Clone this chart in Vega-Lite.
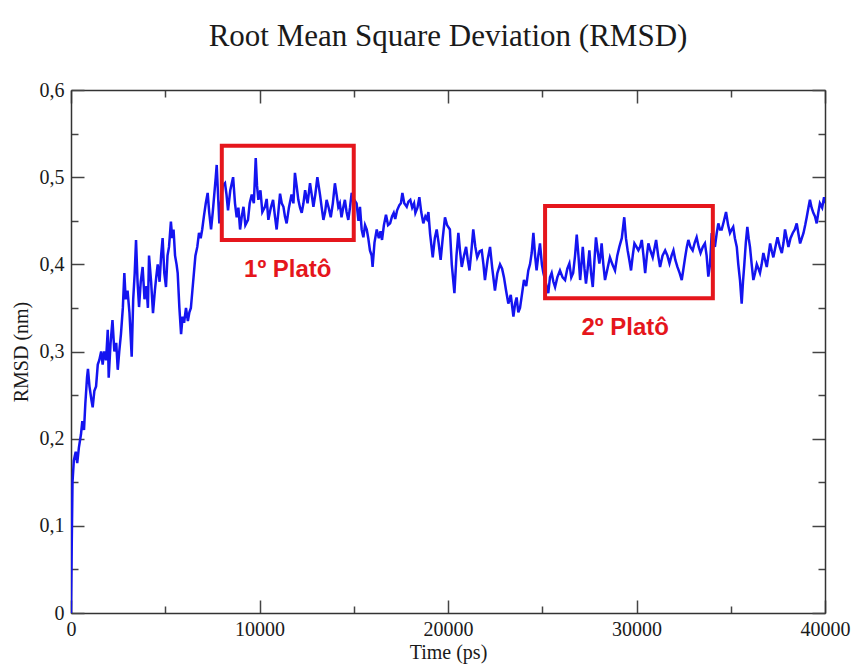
{
"$schema": "https://vega.github.io/schema/vega-lite/v6.json",
"width": 754, "height": 523,
"autosize": "none",
"padding": {"left": 71, "top": 90, "right": 29, "bottom": 52},
"background": "white",
"title": {"text": "Root Mean Square Deviation (RMSD)", "font": "Liberation Serif", "fontSize": 31, "fontWeight": "normal", "color": "#1a1a1a", "offset": 3, "baseline": "alphabetic", "anchor": "middle"},
"config": {"view": {"stroke": null},
  "axis": {"grid": false, "domainColor": "#333", "domainWidth": 1.5, "tickColor": "#444", "tickWidth": 1.5, "labelFont": "Liberation Serif", "labelFontSize": 20, "labelColor": "#1a1a1a", "titleFont": "Liberation Serif", "titleFontSize": 20, "titleFontWeight": "normal", "titleColor": "#1a1a1a"}},
"layer": [
 {"data": {"values": [
{"t":0,"r":0},{"t":40,"r":0.08},{"t":80,"r":0.15},{"t":150,"r":0.175},{"t":250,"r":0.185},{"t":330,"r":0.172},{"t":420,"r":0.19},{"t":530,"r":0.205},{"t":600,"r":0.22},{"t":690,"r":0.21},{"t":760,"r":0.24},{"t":850,"r":0.27},{"t":900,"r":0.28},{"t":980,"r":0.26},{"t":1080,"r":0.245},{"t":1150,"r":0.236},{"t":1240,"r":0.255},{"t":1330,"r":0.26},{"t":1420,"r":0.285},{"t":1500,"r":0.29},{"t":1600,"r":0.3},{"t":1680,"r":0.285},{"t":1760,"r":0.3},{"t":1860,"r":0.29},{"t":1950,"r":0.325},{"t":2000,"r":0.27},{"t":2100,"r":0.31},{"t":2200,"r":0.336},{"t":2300,"r":0.3},{"t":2400,"r":0.31},{"t":2480,"r":0.279},{"t":2560,"r":0.3},{"t":2650,"r":0.32},{"t":2750,"r":0.35},{"t":2830,"r":0.39},{"t":2900,"r":0.36},{"t":3000,"r":0.37},{"t":3100,"r":0.345},{"t":3220,"r":0.294},{"t":3300,"r":0.36},{"t":3380,"r":0.39},{"t":3450,"r":0.428},{"t":3530,"r":0.38},{"t":3610,"r":0.351},{"t":3700,"r":0.38},{"t":3800,"r":0.397},{"t":3900,"r":0.36},{"t":4000,"r":0.375},{"t":4080,"r":0.35},{"t":4140,"r":0.41},{"t":4250,"r":0.38},{"t":4350,"r":0.344},{"t":4450,"r":0.37},{"t":4520,"r":0.385},{"t":4600,"r":0.40},{"t":4700,"r":0.38},{"t":4780,"r":0.41},{"t":4860,"r":0.43},{"t":4950,"r":0.39},{"t":5040,"r":0.374},{"t":5120,"r":0.41},{"t":5200,"r":0.42},{"t":5300,"r":0.449},{"t":5370,"r":0.43},{"t":5440,"r":0.44},{"t":5520,"r":0.41},{"t":5600,"r":0.4},{"t":5660,"r":0.39},{"t":5750,"r":0.35},{"t":5840,"r":0.32},{"t":5920,"r":0.34},{"t":6000,"r":0.333},{"t":6100,"r":0.35},{"t":6200,"r":0.335},{"t":6280,"r":0.345},{"t":6360,"r":0.35},{"t":6440,"r":0.37},{"t":6520,"r":0.39},{"t":6600,"r":0.41},{"t":6700,"r":0.42},{"t":6790,"r":0.436},{"t":6880,"r":0.43},{"t":6960,"r":0.44},{"t":7050,"r":0.455},{"t":7150,"r":0.47},{"t":7250,"r":0.482},{"t":7330,"r":0.46},{"t":7430,"r":0.44},{"t":7520,"r":0.46},{"t":7600,"r":0.48},{"t":7680,"r":0.5},{"t":7730,"r":0.514},{"t":7800,"r":0.48},{"t":7870,"r":0.447},{"t":7950,"r":0.47},{"t":8050,"r":0.49},{"t":8170,"r":0.493},{"t":8250,"r":0.48},{"t":8330,"r":0.462},{"t":8450,"r":0.485},{"t":8600,"r":0.50},{"t":8700,"r":0.47},{"t":8790,"r":0.454},{"t":8880,"r":0.465},{"t":8970,"r":0.44},{"t":9060,"r":0.455},{"t":9150,"r":0.466},{"t":9250,"r":0.445},{"t":9390,"r":0.451},{"t":9480,"r":0.47},{"t":9590,"r":0.48},{"t":9700,"r":0.47},{"t":9800,"r":0.522},{"t":9870,"r":0.49},{"t":9940,"r":0.474},{"t":10050,"r":0.485},{"t":10150,"r":0.46},{"t":10290,"r":0.466},{"t":10380,"r":0.475},{"t":10470,"r":0.451},{"t":10600,"r":0.465},{"t":10720,"r":0.474},{"t":10820,"r":0.455},{"t":10910,"r":0.44},{"t":11000,"r":0.46},{"t":11090,"r":0.481},{"t":11180,"r":0.47},{"t":11270,"r":0.466},{"t":11350,"r":0.455},{"t":11440,"r":0.447},{"t":11560,"r":0.465},{"t":11700,"r":0.48},{"t":11800,"r":0.47},{"t":11880,"r":0.505},{"t":11970,"r":0.49},{"t":12060,"r":0.474},{"t":12150,"r":0.465},{"t":12240,"r":0.459},{"t":12330,"r":0.47},{"t":12420,"r":0.485},{"t":12550,"r":0.47},{"t":12680,"r":0.493},{"t":12770,"r":0.48},{"t":12860,"r":0.466},{"t":12960,"r":0.48},{"t":13070,"r":0.50},{"t":13140,"r":0.49},{"t":13210,"r":0.48},{"t":13300,"r":0.465},{"t":13390,"r":0.451},{"t":13480,"r":0.46},{"t":13560,"r":0.474},{"t":13670,"r":0.465},{"t":13780,"r":0.454},{"t":13890,"r":0.47},{"t":14000,"r":0.493},{"t":14090,"r":0.48},{"t":14180,"r":0.466},{"t":14260,"r":0.47},{"t":14350,"r":0.454},{"t":14440,"r":0.465},{"t":14530,"r":0.474},{"t":14620,"r":0.46},{"t":14710,"r":0.451},{"t":14800,"r":0.465},{"t":14890,"r":0.482},{"t":15000,"r":0.475},{"t":15150,"r":0.47},{"t":15250,"r":0.45},{"t":15330,"r":0.466},{"t":15420,"r":0.44},{"t":15510,"r":0.431},{"t":15600,"r":0.445},{"t":15690,"r":0.44},{"t":15770,"r":0.43},{"t":15860,"r":0.416},{"t":15950,"r":0.41},{"t":16000,"r":0.397},{"t":16100,"r":0.425},{"t":16220,"r":0.44},{"t":16330,"r":0.43},{"t":16420,"r":0.438},{"t":16500,"r":0.428},{"t":16600,"r":0.445},{"t":16710,"r":0.457},{"t":16820,"r":0.445},{"t":16930,"r":0.447},{"t":17030,"r":0.455},{"t":17120,"r":0.459},{"t":17200,"r":0.452},{"t":17300,"r":0.462},{"t":17420,"r":0.468},{"t":17500,"r":0.47},{"t":17580,"r":0.482},{"t":17680,"r":0.47},{"t":17810,"r":0.466},{"t":17900,"r":0.472},{"t":18000,"r":0.474},{"t":18100,"r":0.465},{"t":18200,"r":0.47},{"t":18270,"r":0.459},{"t":18380,"r":0.465},{"t":18480,"r":0.477},{"t":18580,"r":0.46},{"t":18690,"r":0.447},{"t":18800,"r":0.455},{"t":18880,"r":0.452},{"t":18960,"r":0.46},{"t":19050,"r":0.435},{"t":19190,"r":0.408},{"t":19300,"r":0.43},{"t":19400,"r":0.44},{"t":19500,"r":0.425},{"t":19610,"r":0.405},{"t":19720,"r":0.43},{"t":19840,"r":0.454},{"t":19950,"r":0.445},{"t":20100,"r":0.44},{"t":20200,"r":0.4},{"t":20340,"r":0.367},{"t":20450,"r":0.41},{"t":20550,"r":0.436},{"t":20640,"r":0.415},{"t":20730,"r":0.397},{"t":20850,"r":0.41},{"t":20960,"r":0.42},{"t":21050,"r":0.405},{"t":21140,"r":0.393},{"t":21240,"r":0.415},{"t":21340,"r":0.44},{"t":21450,"r":0.42},{"t":21550,"r":0.408},{"t":21680,"r":0.415},{"t":21790,"r":0.416},{"t":21880,"r":0.4},{"t":21960,"r":0.382},{"t":22100,"r":0.405},{"t":22230,"r":0.42},{"t":22350,"r":0.395},{"t":22490,"r":0.37},{"t":22620,"r":0.39},{"t":22760,"r":0.40},{"t":22870,"r":0.395},{"t":22970,"r":0.385},{"t":23080,"r":0.37},{"t":23200,"r":0.355},{"t":23330,"r":0.365},{"t":23470,"r":0.34},{"t":23560,"r":0.355},{"t":23640,"r":0.362},{"t":23730,"r":0.345},{"t":23820,"r":0.35},{"t":23920,"r":0.365},{"t":24030,"r":0.382},{"t":24150,"r":0.375},{"t":24260,"r":0.393},{"t":24350,"r":0.40},{"t":24440,"r":0.413},{"t":24530,"r":0.436},{"t":24620,"r":0.41},{"t":24700,"r":0.393},{"t":24790,"r":0.41},{"t":24880,"r":0.424},{"t":24980,"r":0.40},{"t":25060,"r":0.39},{"t":25150,"r":0.382},{"t":25230,"r":0.375},{"t":25320,"r":0.367},{"t":25410,"r":0.385},{"t":25500,"r":0.39},{"t":25590,"r":0.38},{"t":25680,"r":0.374},{"t":25800,"r":0.385},{"t":25940,"r":0.393},{"t":26080,"r":0.385},{"t":26210,"r":0.382},{"t":26330,"r":0.395},{"t":26440,"r":0.401},{"t":26540,"r":0.385},{"t":26640,"r":0.39},{"t":26740,"r":0.41},{"t":26830,"r":0.434},{"t":26920,"r":0.41},{"t":27010,"r":0.382},{"t":27080,"r":0.40},{"t":27150,"r":0.42},{"t":27240,"r":0.395},{"t":27320,"r":0.378},{"t":27410,"r":0.395},{"t":27500,"r":0.416},{"t":27590,"r":0.39},{"t":27680,"r":0.374},{"t":27770,"r":0.405},{"t":27850,"r":0.431},{"t":27940,"r":0.415},{"t":28030,"r":0.401},{"t":28090,"r":0.41},{"t":28150,"r":0.424},{"t":28240,"r":0.4},{"t":28330,"r":0.382},{"t":28460,"r":0.395},{"t":28590,"r":0.408},{"t":28720,"r":0.4},{"t":28860,"r":0.393},{"t":28980,"r":0.41},{"t":29090,"r":0.42},{"t":29220,"r":0.43},{"t":29350,"r":0.454},{"t":29440,"r":0.43},{"t":29530,"r":0.416},{"t":29620,"r":0.405},{"t":29710,"r":0.393},{"t":29800,"r":0.41},{"t":29890,"r":0.424},{"t":30000,"r":0.42},{"t":30100,"r":0.416},{"t":30190,"r":0.42},{"t":30280,"r":0.428},{"t":30370,"r":0.41},{"t":30460,"r":0.39},{"t":30550,"r":0.41},{"t":30630,"r":0.424},{"t":30750,"r":0.415},{"t":30860,"r":0.408},{"t":30950,"r":0.418},{"t":31040,"r":0.428},{"t":31150,"r":0.41},{"t":31250,"r":0.397},{"t":31380,"r":0.41},{"t":31520,"r":0.416},{"t":31640,"r":0.41},{"t":31750,"r":0.401},{"t":31860,"r":0.41},{"t":31960,"r":0.416},{"t":32060,"r":0.405},{"t":32170,"r":0.397},{"t":32290,"r":0.39},{"t":32400,"r":0.382},{"t":32490,"r":0.395},{"t":32580,"r":0.408},{"t":32670,"r":0.42},{"t":32750,"r":0.428},{"t":32860,"r":0.42},{"t":32980,"r":0.416},{"t":33090,"r":0.425},{"t":33190,"r":0.431},{"t":33300,"r":0.42},{"t":33400,"r":0.413},{"t":33520,"r":0.42},{"t":33630,"r":0.424},{"t":33720,"r":0.41},{"t":33810,"r":0.386},{"t":33900,"r":0.40},{"t":33990,"r":0.436},{"t":34160,"r":0.42},{"t":34250,"r":0.435},{"t":34340,"r":0.447},{"t":34430,"r":0.44},{"t":34520,"r":0.44},{"t":34640,"r":0.45},{"t":34750,"r":0.46},{"t":34860,"r":0.445},{"t":34960,"r":0.436},{"t":35050,"r":0.44},{"t":35130,"r":0.443},{"t":35220,"r":0.43},{"t":35320,"r":0.42},{"t":35400,"r":0.40},{"t":35490,"r":0.382},{"t":35580,"r":0.355},{"t":35650,"r":0.38},{"t":35720,"r":0.40},{"t":35800,"r":0.425},{"t":35880,"r":0.443},{"t":35950,"r":0.43},{"t":36020,"r":0.42},{"t":36110,"r":0.40},{"t":36200,"r":0.382},{"t":36290,"r":0.39},{"t":36380,"r":0.40},{"t":36470,"r":0.395},{"t":36550,"r":0.39},{"t":36640,"r":0.40},{"t":36730,"r":0.413},{"t":36820,"r":0.405},{"t":36910,"r":0.397},{"t":37000,"r":0.41},{"t":37090,"r":0.424},{"t":37180,"r":0.415},{"t":37260,"r":0.408},{"t":37370,"r":0.42},{"t":37480,"r":0.431},{"t":37600,"r":0.42},{"t":37710,"r":0.413},{"t":37800,"r":0.425},{"t":37880,"r":0.44},{"t":37970,"r":0.43},{"t":38060,"r":0.42},{"t":38170,"r":0.43},{"t":38290,"r":0.436},{"t":38400,"r":0.44},{"t":38500,"r":0.447},{"t":38590,"r":0.435},{"t":38680,"r":0.424},{"t":38770,"r":0.43},{"t":38860,"r":0.436},{"t":38950,"r":0.445},{"t":39030,"r":0.454},{"t":39120,"r":0.465},{"t":39200,"r":0.474},{"t":39290,"r":0.465},{"t":39380,"r":0.459},{"t":39470,"r":0.455},{"t":39560,"r":0.447},{"t":39650,"r":0.46},{"t":39730,"r":0.47},{"t":39850,"r":0.465},{"t":39950,"r":0.477},{"t":40000,"r":0.47}
 ]},
  "mark": {"type": "line", "color": "#1414f0", "strokeWidth": 2.5, "clip": true},
  "encoding": {
   "x": {"field": "t", "type": "quantitative", "scale": {"domain": [0, 40000], "nice": false},
     "axis": {"orient": "bottom", "title": "Time (ps)", "values": [0,5000,10000,15000,20000,25000,30000,35000,40000],
       "labelExpr": "datum.value % 10000 === 0 ? format(datum.value, 'd') : ''",
       "tickSize": {"condition": {"test": "datum.value % 10000 === 0", "value": -13}, "value": -7},
       "labelPadding": 19, "titlePadding": 3, "labelFlush": false}},
   "y": {"field": "r", "type": "quantitative", "scale": {"domain": [0, 0.6], "nice": false},
     "axis": {"orient": "left", "title": "RMSD (nm)", "values": [0,0.05,0.1,0.15,0.2,0.25,0.3,0.35,0.4,0.45,0.5,0.55,0.6],
       "labelExpr": "datum.value === 0 ? '0' : (round(datum.value*100) % 10 === 0 ? replace(format(datum.value, '.1f'), '.', ',') : '')",
       "tickSize": {"condition": {"test": "round(datum.value*100) % 10 === 0", "value": -13}, "value": -7},
       "labelPadding": 20, "titlePadding": 8, "labelFlush": false}}
  }},
 {"data": {"values": [{"x1": 8000, "x2": 15000, "y1": 0.428, "y2": 0.536}, {"x1": 25150, "x2": 34050, "y1": 0.361, "y2": 0.467}]},
  "mark": {"type": "rect", "fill": null, "stroke": "#e5161c", "strokeWidth": 4},
  "encoding": {
   "x": {"field": "x1", "type": "quantitative", "scale": {"domain": [0, 40000], "nice": false},
     "axis": {"orient": "top", "title": null, "labels": false, "domain": true, "values": [0,5000,10000,15000,20000,25000,30000,35000,40000],
       "tickSize": {"condition": {"test": "datum.value % 10000 === 0", "value": -13}, "value": -7}}},
   "x2": {"field": "x2"},
   "y": {"field": "y1", "type": "quantitative", "scale": {"domain": [0, 0.6], "nice": false},
     "axis": {"orient": "right", "title": null, "labels": false, "domain": true, "values": [0,0.05,0.1,0.15,0.2,0.25,0.3,0.35,0.4,0.45,0.5,0.55,0.6],
       "tickSize": {"condition": {"test": "round(datum.value*100) % 10 === 0", "value": -13}, "value": -7}}},
   "y2": {"field": "y2"}
  }},
 {"data": {"values": [{"x": 11500, "y": 0.393, "label": "1º Platô"}, {"x": 29400, "y": 0.327, "label": "2º Platô"}]},
  "mark": {"type": "text", "font": "Liberation Sans", "fontWeight": "bold", "fontSize": 24, "color": "#e5161c"},
  "encoding": {
   "x": {"field": "x", "type": "quantitative", "scale": {"domain": [0, 40000], "nice": false}, "axis": null},
   "y": {"field": "y", "type": "quantitative", "scale": {"domain": [0, 0.6], "nice": false}, "axis": null},
   "text": {"field": "label"}
  }}
],
"resolve": {"scale": {"x": "independent", "y": "independent"}}
}
